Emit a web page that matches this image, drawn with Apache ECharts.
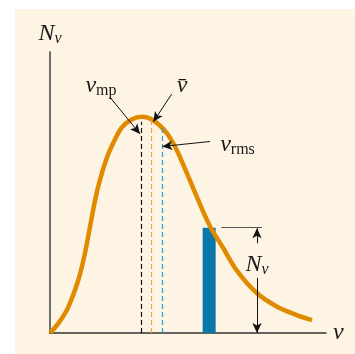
<!DOCTYPE html>
<html>
<head>
<meta charset="utf-8">
<script src="https://cdn.jsdelivr.net/npm/echarts@6/dist/echarts.min.js"></script>
<style>
  html, body { margin: 0; background: #fff; }
  #chart { position: absolute; left: 15px; top: 9px; width: 340px; height: 345px; }
</style>
</head>
<body>
<div id="chart"></div>
<script>
// speed in units of v_mp, count in units of the peak count
const speeds = [0, 0.087, 0.192, 0.308, 0.380, 0.435, 0.489, 0.543, 0.616, 0.677, 0.779, 0.888, 1.0,
  1.123, 1.268, 1.377, 1.467, 1.595, 1.739, 1.884, 2.029, 2.247, 2.464, 2.682, 2.848]
const counts = [0, 0.042, 0.114, 0.245, 0.369, 0.492, 0.612, 0.708, 0.808, 0.870, 0.950, 0.988, 1.0,
  0.984, 0.926, 0.847, 0.760, 0.631, 0.494, 0.392, 0.290, 0.185, 0.123, 0.083, 0.060]

// v_mp, v-bar, v_rms
const markerSpeeds = [0.997, 1.105, 1.221]
const markerTops = [0.977, 0.986, 0.949]
const markerColors = ['#111', '#eba44a', '#2e9bd1']

// the narrow speed slice
const sliceSpeed = [1.730]
const sliceCount = [0.4875]

const F = 'Liberation Serif'
const rich = {
  i: { fontFamily: F, fontStyle: 'italic', fontSize: 24, lineHeight: 26, color: '#1a1a1a' },
  s: { fontFamily: F, fontSize: 16, lineHeight: 16, verticalAlign: 'bottom', color: '#1a1a1a' },
  si: { fontFamily: F, fontStyle: 'italic', fontSize: 16, lineHeight: 16, verticalAlign: 'bottom', color: '#1a1a1a' }
}

const arrow = (from, to) => [
  { coord: from, symbol: 'none' },
  { coord: to, symbol: 'arrow', symbolSize: [7, 10] }
]

const chart = echarts.init(document.getElementById('chart'))
chart.setOption({
  animation: false,
  backgroundColor: '#fdf4e4',
  grid: { left: 35, top: 43, width: 276, height: 281 },
  xAxis: {
    type: 'value', min: 0, max: 3,
    axisLine: { lineStyle: { color: '#333', width: 1.5 } },
    axisTick: { show: false }, axisLabel: { show: false }, splitLine: { show: false },
    name: '{i|v}', nameGap: 7, nameTextStyle: { rich }
  },
  yAxis: {
    type: 'value', min: 0, max: 1.3,
    axisLine: { lineStyle: { color: '#6e6e6e', width: 2 } },
    axisTick: { show: false }, axisLabel: { show: false }, splitLine: { show: false },
    name: '{i|N}{si|v}', nameGap: 5, nameTextStyle: { rich }
  },
  series: [
    {
      type: 'bar',
      data: sliceSpeed.map((v, k) => [v, sliceCount[k]]),
      barWidth: 13,
      itemStyle: { color: '#0a77ab' },
      z: 2
    },
    {
      type: 'line',
      data: [[0, 0]],
      symbol: 'none',
      lineStyle: { width: 0 },
      z: 1,
      markLine: {
        silent: true,
        animation: false,
        label: { show: false },
        data: [
          ...markerSpeeds.map((v, k) => [
            { coord: [v, 0], symbol: 'none', lineStyle: { color: markerColors[k], type: [5, 3], width: 1.2 } },
            { coord: [v, markerTops[k]], symbol: 'none' }
          ]),
          [
            { coord: [1.862, sliceCount[0]], symbol: 'none', lineStyle: { color: '#555', width: 1, type: 'solid' } },
            { coord: [2.304, sliceCount[0]], symbol: 'none' }
          ]
        ]
      }
    },
    {
      type: 'line',
      data: speeds.map((v, k) => [v, counts[k]]),
      smooth: 0.3,
      symbol: 'none',
      lineStyle: { color: '#e08a00', width: 4.5 },
      z: 3,
      markLine: {
        silent: true,
        animation: false,
        label: { show: false },
        lineStyle: { color: '#111', width: 1, type: 'solid' },
        data: [
          arrow([0.652, 1.091], [0.978, 0.921]),
          arrow([1.322, 1.105], [1.123, 0.977]),
          arrow([1.739, 0.886], [1.221, 0.863]),
          arrow([2.25, 0.415], [2.25, 0.485]),
          arrow([2.25, 0.255], [2.25, 0.0])
        ]
      },
      markPoint: {
        silent: true,
        symbol: 'circle',
        symbolSize: 0,
        label: { show: true, position: 'inside', rich },
        data: [
          { coord: [0.554, 1.143], label: { formatter: '{i|v}{s|mp}' } },
          { coord: [1.435, 1.143], label: { formatter: '{i|v̄}' } },
          { coord: [2.038, 0.870], label: { formatter: '{i|v}{s|rms}' } },
          { coord: [2.25, 0.315], label: { formatter: '{i|N}{si|v}' } }
        ]
      }
    }
  ]
})
</script>
</body>
</html>
